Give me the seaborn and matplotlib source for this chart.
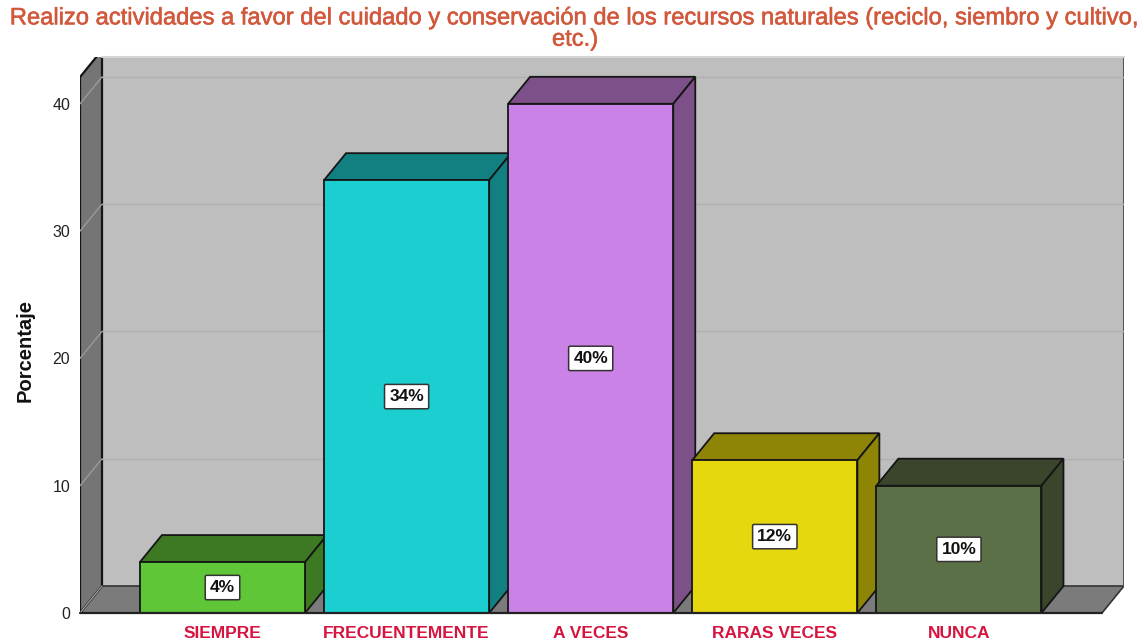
import matplotlib
matplotlib.use("Agg")
import matplotlib.pyplot as plt
import matplotlib.patheffects as pe
from matplotlib.patches import Polygon
import pandas as pd
import seaborn as sns

categories = ["SIEMPRE", "FRECUENTEMENTE", "A VECES", "RARAS VECES", "NUNCA"]
values = [4, 34, 40, 12, 10]
front_colors = ["#5EC637", "#1BCFD0", "#CB82E6", "#E6D80E", "#5C7048"]
dark_colors = ["#3D7822", "#127F80", "#7E5089", "#8E8406", "#3A452B"]
y_ticks = [0, 10, 20, 30, 40]
title = ("Realizo actividades a favor del cuidado y conservación de los recursos naturales "
         "(reciclo, siembro y cultivo,\netc.)")

W, H = 1144, 643
left, right, bottom, top = 80, 1124, 613, 57
px_x = 184.1
px_y = 12.73
dx = 22 / px_x
dy = 27 / px_y

sns.set_theme(style="white")
plt.rcParams["font.family"] = ["Liberation Sans", "DejaVu Sans"]

fig = plt.figure(figsize=(W / 100, H / 100), dpi=100)
ax = fig.add_axes([left / W, (H - bottom) / H, (right - left) / W, (bottom - top) / H])

df = pd.DataFrame({"categoria": categories, "porcentaje": values})
sns.barplot(data=df, x="categoria", y="porcentaje", hue="categoria", palette=front_colors,
            saturation=1, width=0.897, dodge=False, legend=False, edgecolor="#151515",
            linewidth=1.3, ax=ax)

x0 = (left - 222.5) / px_x
x1 = x0 + (right - left) / px_x
y1 = (bottom - top) / px_y
ax.set_xlim(x0, x1)
ax.set_ylim(0, y1)
wall_top = 42.1
ax.set_facecolor("none")
for s in ax.spines.values():
    s.set_visible(False)

# back wall, floor, side wall
ax.add_patch(Polygon([(x0 + dx, dy), (x1, dy), (x1, y1), (x0 + dx, y1)], fc="#BEBEBE", ec="none", zorder=0))
ax.add_patch(Polygon([(x0, 0), (x0 + dx, dy), (x1, dy), (x1 - dx, 0)], fc="#7B7B7B", ec="#333333", lw=1.2, zorder=0.5))
ax.add_patch(Polygon([(x0, 0), (x0 + dx, dy), (x0 + dx, wall_top + dy), (x0, wall_top)],
                     fc="#757575", ec="#151515", lw=1.6, zorder=0.6))
ax.plot([x1, x1], [dy, y1], color="#555555", lw=1.5, zorder=0.7)
ax.plot([x0 + dx, x1], [y1, y1], color="#D5D5D5", lw=1.5, zorder=0.7, clip_on=False)
for t in y_ticks:
    ax.plot([x0, x0 + dx], [t, t + dy], color="#9A9A9A", lw=1, zorder=0.8)
    if t > 0:
        ax.plot([x0 + dx, x1], [t + dy, t + dy], color="#B0B0B0", lw=1, zorder=0.8)

# 3d faces on every bar, later bars cover the earlier ones
for i, bar in enumerate(ax.patches[:len(categories)]):
    xa = bar.get_x()
    xb = xa + bar.get_width()
    h = bar.get_height()
    bar.set_zorder(3 + i + 0.5)
    ax.add_patch(Polygon([(xa, h), (xa + dx, h + dy), (xb + dx, h + dy), (xb, h)],
                         fc=dark_colors[i], ec="#151515", lw=1.3, zorder=3 + i))
    ax.add_patch(Polygon([(xb, 0), (xb + dx, dy), (xb + dx, h + dy), (xb, h)],
                         fc=dark_colors[i], ec="#151515", lw=1.3, zorder=3 + i))
    ax.text(i, h / 2, f"{values[i]}%", ha="center", va="center", fontsize=12.5, fontweight="bold",
            color="#111111", zorder=20,
            bbox=dict(boxstyle="round,pad=0.27,rounding_size=0.08", fc="white", ec="#333333", lw=1.1))

ax.plot([x0, x1 - dx], [0, 0], color="#222222", lw=1.6, zorder=15, clip_on=False)

ax.set_yticks(y_ticks)
ax.set_yticklabels(y_ticks)
ax.tick_params(axis="y", length=0, pad=7, labelsize=11.5, labelcolor="#222222")
ax.tick_params(axis="x", length=0, pad=9)
ax.set_xticks(range(len(categories)))
ax.set_xticklabels(categories, fontsize=12.5, fontweight="bold", color="#D5143F")
ax.set_xlabel("")
ax.set_ylabel("")

fig.text(25 / W, 1 - 351 / H, "Porcentaje", rotation=90, ha="center", va="center", fontsize=14.5,
         color="#111111", fontweight="bold")
tt = fig.text(575 / W, 1 - 29 / H, title, ha="center", va="center", fontsize=17.1,
              color="#D2583C", linespacing=0.96)
tt.set_path_effects([pe.withStroke(linewidth=0.4, foreground="#D2583C")])

fig.savefig("out.png", dpi=100)
